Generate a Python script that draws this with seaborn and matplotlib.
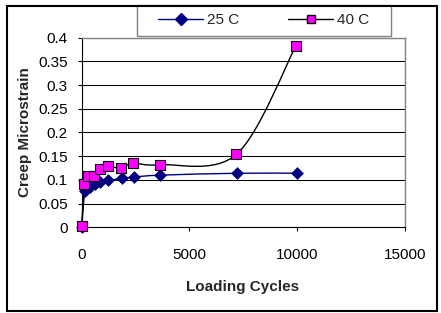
import numpy as np
import matplotlib
matplotlib.use('Agg')
import matplotlib.pyplot as plt
import seaborn as sns
from matplotlib.path import Path
from matplotlib.patches import PathPatch, Rectangle
from matplotlib.lines import Line2D

# data
cycles_25 = [0, 150, 380, 600, 850, 1230, 1850, 2420, 3650, 7200, 10000]
strain_25 = [0.0, 0.076, 0.086, 0.092, 0.096, 0.099, 0.103, 0.106, 0.110, 0.114, 0.114]
cycles_40 = [0, 120, 300, 570, 850, 1200, 1800, 2400, 3620, 7180, 9930]
strain_40 = [0.002, 0.091, 0.108, 0.108, 0.122, 0.129, 0.125, 0.135, 0.132, 0.154, 0.382]

sns.set_style('white')
plt.rcParams['font.family'] = ['Liberation Sans', 'DejaVu Sans']

fig = plt.figure(figsize=(4.41, 3.13), dpi=100)
ax = fig.add_axes([0.1853, 0.2738, 0.7331, 0.6058])


def smooth_path(xs, ys):
    # Excel-style smoothed line: cubic bezier with catmull-rom tangents
    pts = np.column_stack([xs, ys])
    n = len(pts)
    verts = [pts[0]]
    codes = [Path.MOVETO]
    for i in range(n - 1):
        p0 = pts[i - 1] if i > 0 else pts[i]
        p1 = pts[i]
        p2 = pts[i + 1]
        p3 = pts[i + 2] if i + 2 < n else pts[i + 1]
        c1 = p1 + (p2 - p0) / 6.0
        c2 = p2 - (p3 - p1) / 6.0
        verts += [c1, c2, p2]
        codes += [Path.CURVE4] * 3
    return Path(verts, codes)


ax.add_patch(PathPatch(smooth_path(cycles_25, strain_25), fill=False,
                       edgecolor='#000080', lw=1.0, zorder=3, clip_on=False))
ax.add_patch(PathPatch(smooth_path(cycles_40, strain_40), fill=False,
                       edgecolor='black', lw=1.0, zorder=3, clip_on=False))

sns.scatterplot(x=cycles_25, y=strain_25, ax=ax, marker='D', s=36,
                color='#000080', edgecolor='#000080', linewidth=0.5, zorder=4,
                clip_on=False)
sns.scatterplot(x=cycles_40, y=strain_40, ax=ax, marker='s', s=42,
                color='#FF00FF', edgecolor='black', linewidth=0.8, zorder=5,
                clip_on=False)

ax.set_xlim(0, 15000)
ax.set_ylim(0, 0.4)
ax.set_xticks([0, 5000, 10000, 15000])
ax.set_yticks([0, 0.05, 0.1, 0.15, 0.2, 0.25, 0.3, 0.35, 0.4])
ax.set_yticklabels(['0', '0.05', '0.1', '0.15', '0.2', '0.25', '0.3', '0.35', '0.4'])
ax.yaxis.grid(True, color='black', lw=0.75)
ax.xaxis.grid(False)
ax.set_axisbelow(True)

for side in ['left', 'bottom']:
    ax.spines[side].set_color('black')
    ax.spines[side].set_linewidth(0.8)
for side in ['right', 'top']:
    ax.spines[side].set_color('#808080')
    ax.spines[side].set_linewidth(1.0)

ax.tick_params(axis='y', direction='out', length=3, width=0.8, pad=7,
               labelsize=11, left=True, colors='black')
ax.tick_params(axis='x', direction='out', length=3, width=0.8, pad=12,
               labelsize=11, bottom=True, colors='black')
ax.set_xlabel('')
ax.set_ylabel('')

fig.text(0.057, 0.577, 'Creep Microstrain', rotation=90, ha='center', va='center',
         fontsize=11, fontweight='bold')
fig.text(0.551, 0.084, 'Loading Cycles', ha='center', va='center',
         fontsize=11, fontweight='bold')

# legend box drawn separately so the entries stay centred like the original
fig.patches.append(Rectangle((137 / 441, 1 - 35.5 / 313), 254 / 441, 30 / 313,
                             transform=fig.transFigure, facecolor='white',
                             edgecolor='#808080', lw=1.0, zorder=9))

handles = [
    Line2D([], [], color='#000080', lw=1.0, marker='D', markersize=6,
           markerfacecolor='#000080', markeredgecolor='#000080'),
    Line2D([], [], color='black', lw=1.0, marker='s', markersize=6,
           markerfacecolor='#FF00FF', markeredgecolor='black'),
]
leg = fig.legend(handles, ['25 C', '40 C'], ncol=2, loc='center',
                 bbox_to_anchor=(264 / 441, 1 - 20.5 / 313),
                 bbox_transform=fig.transFigure, fontsize=11, frameon=False,
                 handlelength=2.9, handletextpad=0.3, borderaxespad=0,
                 borderpad=0, columnspacing=3.2)
leg.set_zorder(11)

fig.patches.append(Rectangle((7 / 441, 1 - 311 / 313), 430 / 441, 305 / 313,
                             transform=fig.transFigure, fill=False,
                             edgecolor='black', lw=1.5, zorder=10))

fig.savefig('out.png', dpi=100)
